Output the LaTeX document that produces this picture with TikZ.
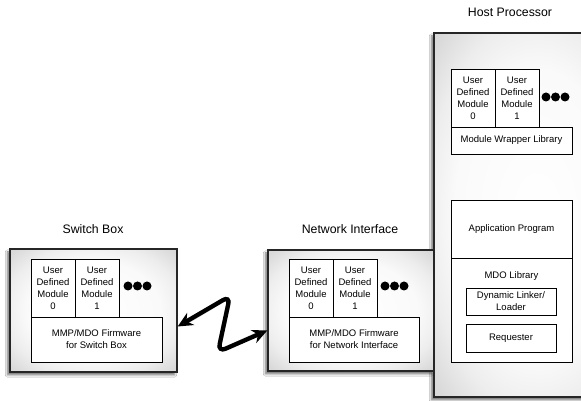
\documentclass[tikz,border=0pt]{standalone}
\usepackage{fontspec}
\setmainfont{Liberation Sans}
\usetikzlibrary{arrows.meta,shadows.blur}
% soft panel fill: near white in the middle, light grey towards the rim
\pgfdeclareradialshading{panel}{\pgfpoint{0bp}{0bp}}{%
  color(0bp)=(white); color(20bp)=(black!2); color(27bp)=(black!7);
  color(34bp)=(black!15); color(50bp)=(black!18)}
\begin{document}
\begin{tikzpicture}[x=1pt,y=1pt,
  unit/.style={draw=black!85,line width=1.4pt,shading=panel,
    blur shadow={shadow xshift=-2.5pt,shadow yshift=-3pt,shadow blur steps=8,shadow opacity=55}},
  part/.style={draw=black,line width=0.8pt,fill=white,align=center,
    font=\fontsize{9.5}{12}\selectfont},
  title/.style={font=\fontsize{12.3}{14}\selectfont},
  dot/.style={circle,fill=black,inner sep=0pt,minimum size=9pt},
  link/.style={line width=4.3pt,rounded corners=8pt,
    {Stealth[length=15pt,width=14pt]}-{Stealth[length=15pt,width=14pt]}}]
\useasboundingbox (0,0) rectangle (581,401);
\clip (0,0) rectangle (581,401);
\fill[white] (0,0) rectangle (581,401);

% Host processor frame (runs off the right edge)
\path[unit] (434,4) rectangle (640,368);
\node[title] (thost) at (510,389) {Host Processor};
\node[part,minimum width=44pt,minimum height=58pt] (hm0) at (473,303) {User\\Defined\\Module\\0};
\node[part,minimum width=44pt,minimum height=58pt] (hm1) at (517,303) {User\\Defined\\Module\\1};
\node[part,minimum width=121pt,minimum height=27pt] (hwrap) at (511.5,260.5) {Module Wrapper Library};
\node[dot] (hd1) at (546,304) {};
\node[dot] (hd2) at (555.5,304) {};
\node[dot] (hd3) at (565,304) {};
\node[part,minimum width=121pt,minimum height=58pt] (app) at (511.5,172) {Application Program};
\node[part,minimum width=121pt,minimum height=104pt] (mdo) at (511.5,91) {};
\node[part,draw=none,fill=none] (mdol) at (511.5,125) {MDO Library};
\node[part,minimum width=90pt,minimum height=27pt] (dyn) at (511,99.5) {Dynamic Linker/\\Loader};
\node[part,minimum width=90pt,minimum height=28pt] (req) at (511,63) {Requester};

% Network interface
\node[unit,minimum width=166pt,minimum height=121pt] (netif) at (351,90.5) {};
\node[title] (tnet) at (350,172) {Network Interface};
\node[part,minimum width=44pt,minimum height=58pt] (nm0) at (311,113) {User\\Defined\\Module\\0};
\node[part,minimum width=44pt,minimum height=58pt] (nm1) at (355,113) {User\\Defined\\Module\\1};
\node[part,minimum width=130pt,minimum height=45pt] (nfw) at (354,61.5) {MMP/MDO Firmware\\for Network Interface};
\node[dot] (nd1) at (385,115) {};
\node[dot] (nd2) at (394.5,115) {};
\node[dot] (nd3) at (404,115) {};

% Switch box
\node[unit,minimum width=167pt,minimum height=123pt] (switch) at (93.5,90.5) {};
\node[title] (tsw) at (93,172) {Switch Box};
\node[part,minimum width=44pt,minimum height=58pt] (sm0) at (53,113) {User\\Defined\\Module\\0};
\node[part,minimum width=44pt,minimum height=58pt] (sm1) at (97,113) {User\\Defined\\Module\\1};
\node[part,minimum width=131pt,minimum height=45pt] (sfw) at (96.5,61.5) {MMP/MDO Firmware\\for Switch Box};
\node[dot] (sd1) at (128,115) {};
\node[dot] (sd2) at (137.5,115) {};
\node[dot] (sd3) at (147,115) {};

% Link between switch box and network interface
\coordinate (la) at ([yshift=-16pt]switch.east);
\coordinate (lb) at ([yshift=-20pt]netif.west);
\coordinate (ltop) at (230,105);
\coordinate (lbot) at (218,49);
\draw[line width=4.3pt,rounded corners=8pt,black,opacity=0.22,shift={(-2.5pt,-3pt)}]
  ([xshift=8pt,yshift=4pt]la) -- (ltop) -- (lbot) -- ([xshift=-8pt,yshift=-3pt]lb);
\draw[link] (la) -- (ltop) -- (lbot) -- (lb);
\end{tikzpicture}
\end{document}
